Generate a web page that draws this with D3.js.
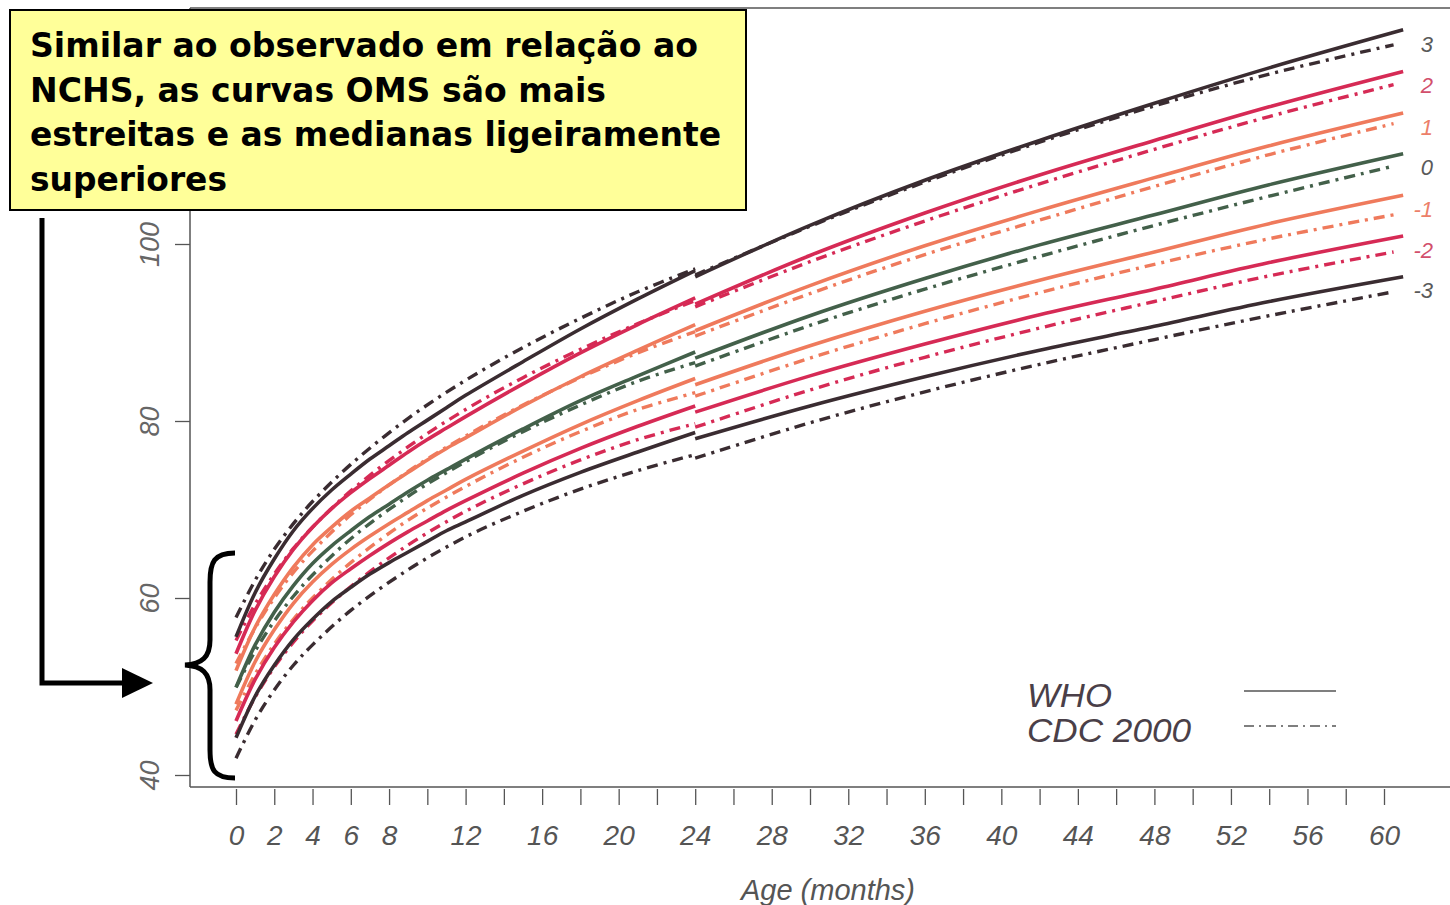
<!DOCTYPE html>
<html>
<head>
<meta charset="utf-8">
<script src="https://cdn.jsdelivr.net/npm/d3@7"></script>
<style>
  html, body { margin: 0; padding: 0; background: #fff; }
  svg { display: block; }
</style>
</head>
<body>
<svg id="chart" width="1450" height="905"></svg>
<script>
// ---- data (boys length/height-for-age, z-scores -3..+3) ----
const zScores = [-3, -2, -1, 0, 1, 2, 3];
const zLabels = ["-3", "-2", "-1", "0", "1", "2", "3"];

// WHO: [month, z-3, z-2, z-1, z0, z+1, z+2, z+3]
const whoLength = [
  [0, 44.2, 46.1, 48.0, 49.9, 51.8, 53.7, 55.6],
  [1, 48.9, 50.8, 52.8, 54.7, 56.7, 58.6, 60.6],
  [2, 52.4, 54.4, 56.4, 58.4, 60.4, 62.4, 64.4],
  [3, 55.3, 57.3, 59.4, 61.4, 63.5, 65.5, 67.6],
  [4, 57.6, 59.7, 61.8, 63.9, 66.0, 68.0, 70.1],
  [5, 59.6, 61.7, 63.8, 65.9, 68.0, 70.1, 72.2],
  [6, 61.2, 63.3, 65.5, 67.6, 69.8, 71.9, 74.0],
  [7, 62.7, 64.8, 67.0, 69.2, 71.3, 73.5, 75.7],
  [8, 64.0, 66.2, 68.4, 70.6, 72.8, 75.0, 77.2],
  [9, 65.2, 67.5, 69.7, 72.0, 74.2, 76.5, 78.7],
  [10, 66.4, 68.7, 71.0, 73.3, 75.6, 77.9, 80.1],
  [11, 67.6, 69.9, 72.2, 74.5, 76.9, 79.2, 81.5],
  [12, 68.6, 71.0, 73.4, 75.7, 78.1, 80.5, 82.9],
  [15, 71.6, 74.1, 76.6, 79.1, 81.7, 84.2, 86.7],
  [18, 74.2, 76.9, 79.6, 82.3, 85.0, 87.7, 90.4],
  [21, 76.5, 79.4, 82.3, 85.1, 88.0, 90.9, 93.8],
  [24, 78.7, 81.7, 84.8, 87.8, 90.9, 93.9, 97.0]
];
const whoHeight = [
  [24, 78.0, 81.0, 84.1, 87.1, 90.2, 93.2, 96.3],
  [30, 81.7, 85.1, 88.5, 91.9, 95.3, 98.7, 102.1],
  [36, 85.0, 88.7, 92.4, 96.1, 99.8, 103.5, 107.2],
  [42, 88.0, 92.0, 95.9, 99.9, 103.8, 107.8, 111.7],
  [48, 90.7, 94.9, 99.1, 103.3, 107.5, 111.7, 115.9],
  [54, 93.5, 97.9, 102.3, 106.7, 111.1, 115.5, 119.9],
  [61, 96.3, 100.9, 105.5, 110.2, 114.8, 119.5, 124.2]
];
// CDC 2000
const cdcLength = [
  [0, 41.9, 44.6, 47.3, 49.9, 52.6, 55.2, 57.8],
  [1, 46.2, 48.8, 51.4, 54.0, 56.6, 59.3, 62.0],
  [2, 49.6, 52.2, 54.8, 57.4, 60.0, 62.7, 65.5],
  [3, 52.4, 55.0, 57.6, 60.2, 62.9, 65.6, 68.4],
  [4, 54.7, 57.4, 60.0, 62.6, 65.3, 68.0, 70.9],
  [6, 58.6, 61.3, 64.0, 66.7, 69.4, 72.1, 75.1],
  [9, 63.2, 66.0, 68.8, 71.5, 74.3, 77.1, 80.3],
  [12, 66.9, 69.8, 72.6, 75.4, 78.3, 81.3, 84.6],
  [15, 69.8, 72.9, 75.9, 78.8, 81.8, 84.9, 88.3],
  [18, 72.3, 75.6, 78.8, 81.8, 84.9, 88.1, 91.6],
  [21, 74.4, 77.9, 81.3, 84.5, 87.7, 91.0, 94.6],
  [24, 76.2, 79.7, 83.2, 86.6, 90.1, 93.6, 97.2]
];
const cdcStature = [
  [24, 75.8, 79.3, 82.8, 86.2, 89.6, 92.9, 96.5],
  [30, 79.8, 83.5, 87.1, 90.8, 94.4, 98.0, 102.0],
  [36, 83.3, 87.2, 91.0, 94.9, 98.8, 102.6, 107.0],
  [42, 86.4, 90.5, 94.5, 98.6, 102.7, 106.8, 111.5],
  [48, 89.2, 93.5, 97.7, 102.1, 106.5, 110.7, 115.6],
  [54, 91.9, 96.4, 100.6, 105.4, 110.1, 114.4, 119.2],
  [60.5, 94.6, 99.1, 103.3, 108.8, 113.6, 118.0, 122.5]
];

const xTickValues = d3.range(0, 61, 2);
const xTickLabels = [0, 2, 4, 6, 8, 12, 16, 20, 24, 28, 32, 36, 40, 44, 48, 52, 56, 60];
const yTickValues = [40, 60, 80, 100];
const legendNames = ["WHO", "CDC 2000"];
const noteLines = [
  "Similar ao observado em relação ao",
  "NCHS, as curvas OMS são mais",
  "estreitas e as medianas ligeiramente",
  "superiores"
];

// ---- styling ----
const zColor = { "-3": "#3a2c31", "-2": "#d62a55", "-1": "#ef7a5c", "0": "#43604a",
                 "1": "#ef7a5c", "2": "#d62a55", "3": "#3a2c31" };
const zLabelColor = { "-3": "#5a5a5a", "-2": "#d24f6c", "-1": "#ec8069", "0": "#5a5a5a",
                      "1": "#ec8069", "2": "#d24f6c", "3": "#5a5a5a" };
const DASHDOT = "11,6,3,6";
const FONT = "Liberation Sans, Arial, Helvetica, sans-serif";

const svg = d3.select("#chart");
const x = d3.scaleLinear().domain([0, 60]).range([236, 1384]);
const y = d3.scaleLinear().domain([40, 100]).range([775, 244]);

// frame
const frame = svg.append("g").attr("stroke", "#555").attr("stroke-width", 1.5);
frame.append("line").attr("x1", 190).attr("x2", 1450).attr("y1", 8).attr("y2", 8);
frame.append("line").attr("x1", 190).attr("x2", 190).attr("y1", 8).attr("y2", 787);
frame.append("line").attr("x1", 190).attr("x2", 1450).attr("y1", 787).attr("y2", 787);

// x axis
const xAxis = d3.axisBottom(x)
  .tickValues(xTickValues)
  .tickSize(16)
  .tickPadding(20)
  .tickFormat(d => xTickLabels.includes(d) ? d : "");
const gx = svg.append("g").attr("transform", "translate(0,789)").call(xAxis);
gx.select(".domain").remove();
gx.selectAll(".tick line").attr("stroke", "#555").attr("stroke-width", 1.3);
gx.selectAll(".tick text")
  .attr("fill", "#555").attr("font-family", FONT)
  .attr("font-style", "italic").attr("font-size", 28);

svg.append("text").attr("x", 828).attr("y", 900).attr("text-anchor", "middle")
  .attr("fill", "#555").attr("font-family", FONT)
  .attr("font-style", "italic").attr("font-size", 29).text("Age (months)");

// y axis
const yAxis = d3.axisLeft(y).tickValues(yTickValues).tickSize(15).tickPadding(28);
const gy = svg.append("g").attr("transform", "translate(190,0)").call(yAxis);
gy.select(".domain").remove();
gy.selectAll(".tick line").attr("stroke", "#555").attr("stroke-width", 1.3);
gy.selectAll(".tick text").remove();
gy.selectAll(".tick").append("text")
  .attr("transform", "translate(-40,0) rotate(-90)")
  .attr("text-anchor", "middle").attr("dy", "0.35em")
  .attr("fill", "#666").attr("font-family", FONT)
  .attr("font-style", "italic").attr("font-size", 27)
  .text(d => d);

// curves
function drawSet(table, dashed) {
  zScores.forEach((z, i) => {
    const line = d3.line()
      .x(r => x(r[0]))
      .y(r => y(r[i + 1]))
      .curve(d3.curveCatmullRom.alpha(0.5));
    svg.append("path")
      .attr("d", line(table))
      .attr("fill", "none")
      .attr("stroke", zColor[String(z)])
      .attr("stroke-width", dashed ? 3.4 : 3.6)
      .attr("stroke-dasharray", dashed ? DASHDOT : null)
      .attr("stroke-linecap", "butt");
  });
}
drawSet(cdcLength, true);
drawSet(cdcStature, true);
drawSet(whoLength, false);
drawSet(whoHeight, false);

// z labels at right end
const lastWho = whoHeight[whoHeight.length - 1];
zScores.forEach((z, i) => {
  svg.append("text")
    .attr("x", 1433).attr("y", y(lastWho[i + 1]) + 14)
    .attr("dy", "0.35em").attr("text-anchor", "end")
    .attr("fill", zLabelColor[String(z)])
    .attr("font-family", FONT)
    .attr("font-style", "italic").attr("font-size", 22)
    .text(zLabels[i]);
});

// legend
const leg = svg.append("g");
const legendWidths = [85, 164];
legendNames.forEach((name, i) => {
  leg.append("text").attr("x", 1027).attr("y", 707 + i * 35)
    .attr("fill", "#4a3f48").attr("font-family", FONT)
    .attr("font-style", "italic").attr("font-size", 33)
    .attr("textLength", legendWidths[i]).attr("lengthAdjust", "spacingAndGlyphs")
    .text(name);
  leg.append("line").attr("x1", 1244).attr("x2", 1336)
    .attr("y1", 691 + i * 35).attr("y2", 691 + i * 35)
    .attr("stroke", "#555").attr("stroke-width", 1.6)
    .attr("stroke-dasharray", i === 1 ? "10,5,2,5" : null);
});

// annotation box
svg.append("rect").attr("x", 10).attr("y", 10).attr("width", 736).attr("height", 200)
  .attr("fill", "#ffff99").attr("stroke", "#000").attr("stroke-width", 2);
const noteWidths = [668, 576, 691, 197];
noteLines.forEach((t, i) => {
  svg.append("text").attr("x", 30).attr("y", 57 + i * 44.5)
    .attr("font-family", "DejaVu Sans, Verdana, sans-serif")
    .attr("font-weight", "bold").attr("font-size", 33).attr("fill", "#000")
    .attr("textLength", noteWidths[i]).attr("lengthAdjust", "spacingAndGlyphs")
    .text(t);
});

// arrow
svg.append("path").attr("d", "M42,218 V683 H126")
  .attr("fill", "none").attr("stroke", "#000").attr("stroke-width", 5);
svg.append("path").attr("d", "M122,668 L153,683 L122,698 Z").attr("fill", "#000");

// brace
svg.append("path")
  .attr("d", "M235,553 C214,553 210,562 210,582 L210,640 C210,657 202,664 185,665 C202,666 210,673 210,690 L210,750 C210,770 214,778 235,778")
  .attr("fill", "none").attr("stroke", "#000").attr("stroke-width", 5);
</script>
</body>
</html>
